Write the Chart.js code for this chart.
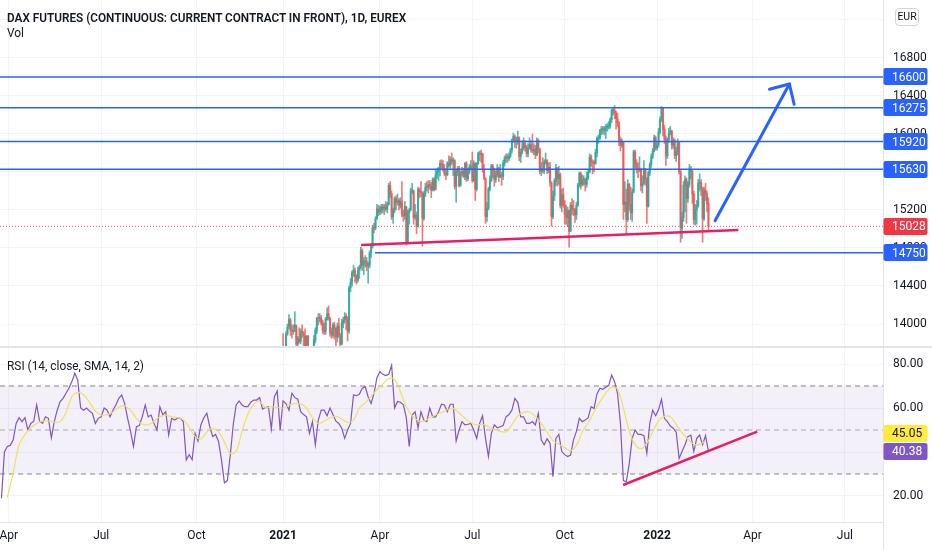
<!DOCTYPE html>
<html><head><meta charset="utf-8">
<script src="https://cdn.jsdelivr.net/npm/chart.js@4.4.1/dist/chart.umd.min.js"></script>
<style>
html,body{margin:0;padding:0;background:#fff;}
#wrap{position:relative;width:932px;height:550px;overflow:hidden;font-family:Roboto,"Open Sans",sans-serif;color:#131722;}
#c{position:absolute;left:0;top:0;}
.lbl{position:absolute;white-space:nowrap;line-height:1;transform-origin:0 0;}
#eur{position:absolute;left:895px;top:8px;width:24px;height:18px;border:1px solid #d1d4dc;border-radius:4px;font-size:10.5px;line-height:16px;text-align:center;box-sizing:border-box;background:#fff;}
</style></head>
<body>
<div id="wrap">
<canvas id="c" width="932" height="550"></canvas>
<div class="lbl" id="title" style="left:7px;top:11px;font-size:13px;font-weight:600;">DAX FUTURES (CONTINUOUS: CURRENT CONTRACT IN FRONT), 1D, EUREX</div>
<div class="lbl" id="vol" style="left:7px;top:27px;font-size:12.5px;">Vol</div>
<div class="lbl" id="rsil" style="left:7px;top:360px;font-size:12.5px;">RSI (14, close, SMA, 14, 2)</div>
<div id="eur">EUR</div>
</div>
<script>
// ---------- data ----------
const xMin = -193, xMax = 409;                 // bar index range (0 = first bar of 2021)
const xTickIdx = [-187, -124, -59, 0, 66, 129, 192, 255, 320, 383];
const xTickLabels = ['Apr', 'Jul', 'Oct', '2021', 'Apr', 'Jul', 'Oct', '2022', 'Apr', 'Jul'];
const priceTicks = [14000, 14400, 14800, 15200, 15600, 16000, 16400, 16800, 17200];
const priceTickLabels = ['14000', '14400', '14800', '15200', '15600', '16000', '16400', '16800', ''];
const rsiTicks = [20, 40, 60, 80];
const rsiTickLabels = ['20.00', '40.00', '60.00', '80.00'];
const levels = [16600, 16275, 15920, 15630];
const supportLevel = 14750, supportStart = 62.7;
const lastPrice = 15028;
const trendLine = [[53.2, 14832], [310.4, 14989]];
const arrowShaft = [[294.5, 15087], [345.2, 16526]];
const arrowHead = [[331.6, 16471], [345.2, 16526], [348.4, 16313]];
const rsiTrend = [[231.8, 25], [323.2, 49.3]];
const rsiBands = [70, 50, 30];
const rsiLast = 40.38, rsiMaLast = 45.05;

const rsiStart = -192, rsiStep = 2;
const rsiValues = [
 19,40,42.5,43,45.5,53,55.6,53.8,55.6,50,
 53,54,61.4,54,53,56,55.3,46.4,53.8,59,
 62.9,64.4,66.7,69,72,75.8,72.7,60,59,60,
 58.6,57.6,53,55.3,56,60,59,56,59,61.4,
 64.4,65.9,62,55.3,49.4,42.5,51.5,52,56,61.4,
 56,56.8,53,50,60.6,57,58.3,47.7,55.3,54.5,
 55.3,55.3,53.8,36.4,38.8,36.5,48.5,45,52.4,55.6,
 57.6,51.5,47,48,44.8,36.4,26,27,38.6,52.4,
 61.4,63.2,61.4,60.6,60.6,62.6,63.6,63.6,64.7,
 59.5,60.2,60.6,50.5,65,67.7,50,63.2,62,59,
 66.7,64.7,64,58.3,57,56,48.5,53.8,43.3,54.5,
 59,59,56.5,60,57,54,53,50.8,46.2,50,
 53,65.9,65.6,66.2,69,69.7,65,62,66.7,73.8,
 76.5,75.3,74.7,75.3,79.5,60,63,62.6,61.4,55.6,
 42.5,56.8,58.3,51,58.3,54.5,53.8,60,56,56,
 58.3,61.7,61.4,58.3,61.7,61.7,45,50,53.8,52.3,
 52.6,53,50,46.2,53,56.5,46.2,37.9,48.5,52.3,
 51,51.5,52,56,57,59,64.4,
 62.6,56,56,53,53,53.8,52.3,57.6,45.5,43.3,
 46,44,28.8,46.2,48,40.2,38.8,37.9,38.6,45.5,
 49.4,55.3,53.8,54.5,55.6,60.6,59.8,66.4,69,68.5,
 69.4,70.2,75,72,66.7,53,27,26.5,34.7,46.2,
 50,48,48,47.4,39.4,53,59,56.5,59.3,64,
 55.3,53.8,51.8,50.8,49,37.1,40.2,43.3,47,47.7,
 40.2,46.2,47.7,43.3,47.4,40.38
];
const maStart = -188, maStep = 4;
const rsiMaValues = [
 19.2,30.6,43.2,47.9,51,53,54,54.1,53.6,53.8,
 58,65.2,67.1,66,62.6,58.6,56.8,57,58.2,60.3,
 61,58.9,55.3,52.6,52.4,54,56,56.8,56,55.6,
 54.7,51.2,47.1,45.9,49.1,50.6,49.1,44.5,39.4,40.3,
 49.4,57.3,61.8,62.9,
 60.2,60.6,60.3,60,61.2,62.1,61.8,60,55.6,53,
 54,55.6,56.2,55,53.5,54.5,60,62.3,65.3,68.3,
 70.9,73.3,73,67.4,60.6,56.5,54.2,54,55.6,56.8,
 57.9,59.2,59.8,57.7,55.3,53.3,52.3,52.6,51.5,50.2,
 49.4,49.2,52.4,
 56.4,58,58.2,56.2,53,49.1,45.2,43.5,42,40.6,
 43,49.2,53.2,58.2,62.9,66.8,69.5,68.6,60,49.5,
 43.5,41.4,44,49.2,54.2,56.2,56,52.6,48.8,45.9,
 43.5,43.5,45.05
];

// daily candles [open, high, low, close]
const candles2021Q1 = [
 [13760,13900,13600,13726],[13700,13720,13600,13651],[13660,13920,13580,13892],[13900,14000,13880,13968],[13975,14100,13950,14049],
 [14040,14060,13880,13936],[13930,13990,13850,13925],[13920,13990,13890,13940],[13950,14130,13920,13989],[13980,13990,13720,13787],
 [13790,13870,13740,13848],[13850,13960,13800,13816],[13820,13950,13790,13921],[13920,13990,13860,13907],[13900,13920,13770,13874],
 [13870,13950,13610,13643],[13640,13880,13600,13870],[13870,13880,13580,13620],[13600,13700,13330,13665],[13660,13720,13400,13433],
 [13440,13650,13400,13622],[13620,13880,13600,13835],[13830,13960,13800,13933],[13930,14070,13900,14060],[14060,14110,13990,14056],
 [14060,14110,14020,14060],[14060,14090,13990,14011],[14010,14040,13900,13933],[13930,14010,13890,13921],[13920,14070,13890,14050],
 [14050,14170,14040,14109],[14110,14190,14040,14065],[14060,14070,13870,13909],[13910,13960,13850,13886],[13880,14010,13860,13993],
 [13990,14020,13840,13950],[13950,13960,13720,13865],[13860,14010,13810,13976],[13980,14060,13860,13879],[13870,13900,13640,13786],
 [13790,14050,13780,14012],[14010,14070,13960,14039],[14040,14120,14010,14080],[14080,14110,13940,14056],[14050,14080,13820,13921],
 [13930,14400,13900,14380],[14380,14480,14340,14437],[14440,14560,14400,14541],[14540,14620,14500,14569],[14560,14590,14440,14502],
 [14500,14520,14420,14461],[14460,14600,14440,14557],[14560,14620,14480,14596],[14600,14810,14580,14776],[14770,14790,14560,14621],
 [14620,14700,14520,14657],[14660,14720,14600,14662],[14660,14700,14560,14610],[14610,14650,14430,14621],[14620,14770,14590,14749],
 [14750,14840,14700,14818],[14820,15040,14800,15009],[15010,15060,14960,15008],[15010,15130,14990,15107]
];
const candles2021Q2 = [
 [15110,15260,15100,15212],[15210,15250,15140,15176],[15180,15240,15150,15203],[15200,15260,15160,15234],
 [15230,15260,15170,15215],[15210,15260,15150,15234],[15230,15290,15190,15210],[15210,15280,15170,15255],[15260,15480,15250,15460],
 [15460,15500,15330,15368],[15370,15400,15100,15129],[15130,15220,15060,15196],[15200,15340,15170,15321],[15320,15350,15200,15280],
 [15280,15370,15250,15296],[15300,15320,15200,15249],[15250,15330,15220,15292],[15290,15500,15130,15155],[15150,15200,15080,15136],
 [15140,15290,15100,15236],[15230,15240,14830,14856],[14860,15200,14840,15171],[15170,15220,15050,15197],[15200,15430,15190,15400],
 [15400,15480,15370,15400],[15400,15410,15050,15120],[15120,15260,15100,15150],[15150,15180,14950,15031],[15030,15440,15020,15417],
 [15410,15430,15330,15396],[15390,15500,15340,15386],[15380,15390,14820,15114],[15110,15400,15090,15370],[15370,15480,15340,15437],
 [15440,15500,15400,15438],[15440,15510,15380,15466],[15470,15510,15420,15450],[15450,15490,15330,15406],[15410,15540,15400,15520],
 [15520,15540,15400,15421],[15420,15630,15410,15568],[15570,15640,15530,15603],[15600,15650,15510,15632],[15630,15720,15560,15693],
 [15690,15730,15640,15677],[15680,15720,15610,15640],[15640,15680,15560,15581],[15580,15620,15520,15571],[15570,15710,15560,15693],
 [15690,15770,15650,15673],[15670,15760,15640,15729],[15730,15800,15680,15710],[15710,15750,15560,15727],[15720,15730,15420,15448],
 [15450,15620,15280,15604],[15600,15660,15560,15636],[15640,15660,15440,15456],[15460,15610,15450,15589],[15590,15650,15560,15607],
 [15610,15640,15540,15554],[15550,15700,15520,15690],[15690,15710,15500,15531],[15530,15640,15510,15603],[15600,15680,15580,15650]
];
const candles2021Q3 = [
 [15650,15720,15630,15661],[15660,15810,15490,15511],[15510,15720,15500,15692],[15690,15700,15300,15420],[15420,15700,15400,15688],
 [15690,15810,15680,15790],[15790,15820,15720,15790],[15790,15830,15700,15788],[15790,15800,15600,15629],[15630,15680,15520,15540],
 [15530,15540,15060,15133],[15130,15280,15080,15216],[15220,15440,15200,15422],[15420,15560,15400,15515],[15510,15680,15500,15669],
 [15660,15680,15540,15618],[15620,15640,15450,15519],[15520,15610,15490,15570],[15570,15680,15550,15640],[15640,15650,15500,15544],
 [15550,15680,15540,15568],[15570,15600,15460,15555],[15550,15720,15520,15692],[15690,15770,15660,15744],[15740,15790,15700,15761],
 [15760,15790,15700,15745],[15740,15800,15720,15770],[15770,15850,15750,15826],[15830,15950,15800,15937],[15940,16010,15910,15977],
 [15970,15990,15860,15925],[15920,15970,15850,15921],[15920,16030,15890,15966],[15960,15970,15720,15765],[15760,15840,15700,15808],
 [15810,15930,15790,15852],[15850,15960,15830,15906],[15900,15930,15820,15860],[15860,15880,15760,15794],[15790,15900,15760,15852],
 [15850,15960,15840,15888],[15890,15930,15810,15835],[15840,16000,15800,15824],[15820,15900,15780,15840],[15840,15880,15740,15781],
 [15780,15960,15770,15932],[15930,15950,15800,15843],[15840,15850,15580,15610],[15610,15700,15560,15623],[15620,15750,15590,15609],
 [15610,15730,15580,15701],[15700,15800,15680,15722],[15720,15730,15580,15616],[15610,15700,15590,15651],[15650,15700,15450,15490],
 [15480,15500,15030,15132],[15130,15400,15110,15348],[15350,15530,15300,15506],[15500,15680,15460,15644],[15640,15650,15450,15531],
 [15530,15660,15470,15573],[15570,15590,15220,15249],[15250,15420,15180,15365],[15360,15430,15230,15261],[15260,15300,15050,15156]
];
const candles2021Q4 = [
 [15150,15250,15050,15125],[15120,15230,15030,15195],[15190,15200,14810,14973],[14980,15280,14970,15252],[15250,15320,15150,15206],
 [15200,15300,15140,15199],[15200,15220,15070,15147],[15150,15280,15100,15250],[15250,15480,15240,15463],[15460,15600,15440,15587],
 [15580,15600,15420,15474],[15470,15570,15450,15516],[15520,15560,15460,15522],[15520,15530,15400,15473],[15470,15600,15440,15543],
 [15540,15630,15520,15600],[15600,15790,15590,15757],[15760,15780,15660,15705],[15700,15730,15580,15696],[15700,15720,15600,15688],
 [15690,15840,15680,15806],[15800,15970,15760,15954],[15950,15990,15900,15959],[15960,16050,15940,16030],[16030,16080,15990,16054],
 [16050,16080,16000,16047],[16040,16080,15990,16040],[16040,16100,15950,16067],[16070,16110,16030,16083],[16080,16130,16050,16094],
 [16090,16170,16060,16148],[16150,16260,16120,16247],[16250,16280,16200,16251],[16250,16300,16160,16221],[16220,16240,16050,16160],
 [16160,16220,16080,16116],[16110,16130,15880,15937],[15940,15970,15820,15878],[15880,15950,15860,15918],[15910,15920,15100,15257],
 [15260,15500,15180,15281],[15280,15420,14940,15100],[15100,15520,15080,15472],[15470,15480,15200,15263],[15260,15440,15100,15170],
 [15170,15420,15080,15387],[15390,15830,15380,15814],[15810,15830,15640,15688],[15690,15730,15590,15639],[15640,15700,15540,15623],
 [15620,15760,15600,15621],[15620,15640,15400,15453],[15450,15560,15380,15476],[15480,15720,15470,15636],[15630,15640,15460,15532],
 [15530,15540,15060,15240],[15240,15610,15230,15593],[15590,15700,15560,15676],[15680,15790,15650,15756],
 [15760,15850,15740,15820],[15820,15990,15810,15964],[15960,15980,15830,15852],[15850,15920,15830,15885]
];
const candles2022Q1 = [
 [15890,16060,15860,16021],[16020,16180,16000,16152],[16150,16290,16130,16271],[16270,16280,15980,16052],[16050,16090,15900,15948],
 [15950,15980,15670,15768],[15770,15960,15740,15942],[15940,16060,15910,16010],[16010,16080,15990,16032],[16030,16040,15840,15883],
 [15880,15960,15850,15934],[15930,15950,15740,15773],[15770,15860,15710,15810],[15810,15950,15780,15912],[15910,15920,15580,15603],
 [15600,15620,14860,15011],[15010,15180,14900,15124],[15120,15500,15080,15460],[15460,15560,15180,15524],[15520,15540,15060,15318],
 [15320,15500,15280,15471],[15470,15680,15440,15619],[15610,15660,15530,15613],[15610,15620,15270,15368],[15370,15400,15050,15100],
 [15100,15260,15040,15206],[15200,15300,15050,15242],[15240,15520,15230,15482],[15480,15580,15400,15490],[15490,15520,15350,15425],
 [15420,15440,14860,15113],[15110,15440,15090,15412],[15410,15480,15300,15370],[15370,15400,15180,15267],[15270,15330,14980,15028]
];

// ---------- build ----------
const FONT = "Roboto, 'Open Sans', sans-serif";
const candles = [].concat(candles2021Q1, candles2021Q2, candles2021Q3, candles2021Q4, candles2022Q1);
const UP = 'rgba(38,166,154,0.78)', DOWN = 'rgba(239,83,80,0.78)';
const candleColor = ctx => { const c = candles[ctx.dataIndex]; return (c && c[3] >= c[0]) ? UP : DOWN; };
const pts = arr => arr.map(p => ({x: p[0], y: p[1]}));
const hline = (v, from) => [{x: from, y: v}, {x: xMax, y: v}];
const lineDs = (data, axis, color, width, extra) => Object.assign({
  type: 'line', data: data, yAxisID: axis, borderColor: color, borderWidth: width,
  pointRadius: 0, tension: 0, fill: false
}, extra || {});

const datasets = [];
// drawings (top)
datasets.push(lineDs(pts(arrowShaft), 'y', '#2962ff', 3, {order: 0, borderCapStyle: 'round'}));
datasets.push(lineDs(pts(arrowHead), 'y', '#2962ff', 3, {order: 0, borderCapStyle: 'round', borderJoinStyle: 'round'}));
datasets.push(lineDs(pts(trendLine), 'y', '#e91e63', 2.5, {order: 0}));
levels.forEach(v => datasets.push(lineDs(hline(v, xMin), 'y', '#2962ff', 1.5, {order: 1})));
datasets.push(lineDs(hline(supportLevel, supportStart), 'y', '#2962ff', 1.5, {order: 1}));
// candles
datasets.push({type: 'bar', yAxisID: 'y', order: 2, grouped: false, barThickness: 1.4, minBarLength: 1,
  data: candles.map((c, i) => ({x: i, y: [c[0], c[3]]})), backgroundColor: candleColor, borderWidth: 0});
datasets.push({type: 'bar', yAxisID: 'y', order: 3, grouped: false, barThickness: 1, minBarLength: 1,
  data: candles.map((c, i) => ({x: i, y: [c[2], c[1]]})), backgroundColor: candleColor, borderWidth: 0});
datasets.push(lineDs(hline(lastPrice, xMin), 'y', '#ef5350', 1, {order: 4, borderDash: [1, 2]}));
// RSI pane
datasets.push(lineDs(pts(rsiTrend), 'yRsi', '#e91e63', 2.5, {order: 0}));
datasets.push(lineDs(rsiMaValues.map((v, k) => ({x: maStart + k * maStep, y: v})), 'yRsi', '#ece35a', 1.2, {order: 1, tension: 0.35}));
datasets.push(lineDs(rsiValues.map((v, k) => ({x: rsiStart + k * rsiStep, y: v})), 'yRsi', '#7e57c2', 1.2, {order: 2}));
datasets.push(lineDs(hline(rsiBands[0], xMin), 'yRsi', 'rgba(120,123,134,0.9)', 1, {order: 5, borderDash: [5, 4]}));
datasets.push(lineDs(hline(rsiBands[1], xMin), 'yRsi', 'rgba(120,123,134,0.6)', 1, {order: 5, borderDash: [5, 4]}));
datasets.push(lineDs(hline(rsiBands[2], xMin), 'yRsi', 'rgba(120,123,134,0.9)', 1, {order: 6, borderDash: [5, 4],
  fill: {value: rsiBands[0]}, backgroundColor: 'rgba(126,87,194,0.09)'}));

const badges = levels.concat([supportLevel]).map(v => ({scale: 'y', value: v, text: String(v), bg: '#2962ff', fg: '#ffffff'}))
  .concat([{scale: 'y', value: lastPrice, text: String(lastPrice), bg: '#f23645', fg: '#ffffff'},
           {scale: 'yRsi', value: rsiMaLast, text: rsiMaLast.toFixed(2), bg: '#ffeb3b', fg: '#131722'},
           {scale: 'yRsi', value: rsiLast, text: rsiLast.toFixed(2), bg: '#7e57c2', fg: '#ffffff'}]);

const overlay = {
  id: 'overlay',
  beforeDatasetDraw(chart, args) {
    const ys = args.meta.yScale, ca = chart.chartArea, ctx = chart.ctx;
    ctx.save(); ctx.beginPath(); ctx.rect(ca.left, ys.top, ca.right - ca.left, ys.bottom - ys.top); ctx.clip();
  },
  afterDatasetDraw(chart) { chart.ctx.restore(); },
  afterDraw(chart) {
    const ctx = chart.ctx, ca = chart.chartArea, ys = chart.scales.y;
    ctx.save();
    ctx.fillStyle = '#e0e3eb';
    ctx.fillRect(0, ys.bottom - 1, chart.width, 2);
    ctx.fillRect(Math.round(ca.right), ca.bottom, 1, chart.height - ca.bottom);
    const H = 17, W = 44;
    const items = badges.map(b => Object.assign({}, b, {py: chart.scales[b.scale].getPixelForValue(b.value)}));
    ['y', 'yRsi'].forEach(s => {
      const list = items.filter(b => b.scale === s).sort((a, b) => a.py - b.py);
      for (let i = list.length - 2; i >= 0; i--) {
        if (list[i + 1].py - list[i].py < H + 1) list[i].py = list[i + 1].py - H - 1;
      }
    });
    ctx.font = '12px ' + FONT;
    ctx.textBaseline = 'middle'; ctx.textAlign = 'left';
    items.forEach(b => {
      ctx.fillStyle = b.bg;
      ctx.beginPath();
      ctx.roundRect(ca.right + 0.5, Math.round(b.py - H / 2), W, H, 2);
      ctx.fill();
      ctx.fillStyle = b.fg;
      ctx.fillText(b.text, ca.right + 9, Math.round(b.py) + 0.5);
    });
    ctx.restore();
  }
};

const axisCommon = {
  type: 'linear', position: 'right', stack: 'panes',
  grid: {color: '#f0f3fa', drawTicks: false},
  border: {color: '#e0e3eb'},
  afterFit: s => { s.width = 49; s.paddingTop = 0; s.paddingBottom = 0; }
};

new Chart(document.getElementById('c'), {
  type: 'bar',
  data: {datasets: datasets},
  plugins: [overlay],
  options: {
    responsive: false, animation: false, events: [],
    layout: {padding: 0},
    plugins: {legend: {display: false}, tooltip: {enabled: false}},
    scales: {
      x: {
        type: 'linear', position: 'bottom', min: xMin, max: xMax, offset: false,
        afterBuildTicks: s => { s.ticks = xTickIdx.map(v => ({value: v})); },
        afterFit: s => { s.height = 28; s.paddingLeft = 0; s.paddingRight = 0; },
        grid: {color: '#f0f3fa', drawTicks: false, offset: false},
        border: {color: '#e0e3eb'},
        ticks: {
          autoSkip: false, maxRotation: 0, padding: 7, color: '#131722',
          font: ctx => ({family: FONT, size: 12, weight: (xTickLabels[ctx.index] || '').length === 4 ? 'bold' : 'normal'}),
          callback: (v, i) => xTickLabels[i]
        }
      },
      y: Object.assign({}, axisCommon, {
        weight: 0, stackWeight: 347, min: 13757.9, max: 17410.5,
        afterBuildTicks: s => { s.ticks = priceTicks.map(v => ({value: v})); },
        ticks: {padding: 10, color: '#131722', font: {family: FONT, size: 12}, callback: (v, i) => priceTickLabels[i]}
      }),
      yRsi: Object.assign({}, axisCommon, {
        weight: 1, stackWeight: 175, min: 8.18, max: 87.73,
        afterBuildTicks: s => { s.ticks = rsiTicks.map(v => ({value: v})); },
        ticks: {padding: 10, color: '#131722', font: {family: FONT, size: 12}, callback: (v, i) => rsiTickLabels[i]}
      })
    }
  }
});

// fit header labels to the reference widths
[['title', 399], ['rsil', 137], ['vol', 17]].forEach(([id, w]) => {
  const el = document.getElementById(id);
  const cw = el.getBoundingClientRect().width;
  if (cw > 0) el.style.transform = 'scaleX(' + (w / cw).toFixed(3) + ')';
});
</script>
</body></html>
